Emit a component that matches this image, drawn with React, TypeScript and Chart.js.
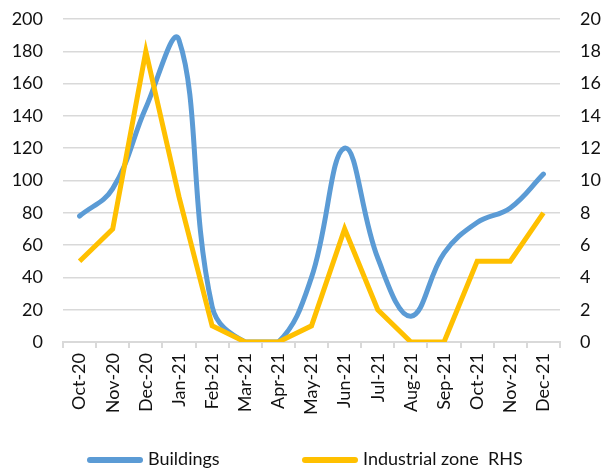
import React, { useEffect, useRef } from "react";
import { Chart, registerables } from "chart.js";

Chart.register(...registerables);

const categories = [
  "Oct-20", "Nov-20", "Dec-20", "Jan-21", "Feb-21", "Mar-21", "Apr-21", "May-21",
  "Jun-21", "Jul-21", "Aug-21", "Sep-21", "Oct-21", "Nov-21", "Dec-21",
];
const buildings = [78, 95, 145, 187, 22, 0, 0, 40, 120, 52, 16, 55, 74, 83, 104];
const industrialZone = [5, 7, 18, 9, 1, 0, 0, 1, 7, 2, 0, 0, 5, 5, 8];
const seriesNames = ["Buildings", "Industrial zone  RHS"];
const seriesColors = ["#5B9BD5", "#FFC000"];
const leftTicks = { min: 0, max: 200, step: 20 };
const rightTicks = { min: 0, max: 20, step: 2 };

const FONT = "Lato, 'Noto Sans', sans-serif";
const LEGEND_X = [87, 302];
const LEGEND_Y = 460;

const bottomLegend = {
  id: "bottomLegend",
  afterDraw(chart: any) {
    const ctx = chart.ctx as CanvasRenderingContext2D;
    ctx.save();
    chart.data.datasets.forEach((ds: any, i: number) => {
      const x = LEGEND_X[i];
      ctx.strokeStyle = ds.borderColor;
      ctx.lineWidth = 6;
      ctx.lineCap = "round";
      ctx.beginPath();
      ctx.moveTo(x + 3, LEGEND_Y);
      ctx.lineTo(x + 53, LEGEND_Y);
      ctx.stroke();
      ctx.fillStyle = "#111";
      ctx.font = `18px ${FONT}`;
      ctx.textAlign = "left";
      ctx.textBaseline = "alphabetic";
      ctx.fillText(ds.label, x + 61, 465);
    });
    ctx.restore();
  },
};

const fixVerticalPadding = (s: any, width: number) => {
  s.width = width;
  s.paddingTop = 0;
  s.paddingBottom = 0;
};

export default function App() {
  const ref = useRef<HTMLCanvasElement | null>(null);

  useEffect(() => {
    if (!ref.current) return;
    const chart = new Chart(ref.current, {
      type: "line",
      plugins: [bottomLegend],
      data: {
        labels: categories,
        datasets: [
          {
            label: seriesNames[0],
            data: buildings,
            borderColor: seriesColors[0],
            backgroundColor: seriesColors[0],
            borderWidth: 5,
            tension: 0.4,
            pointRadius: 0,
            borderCapStyle: "round",
            borderJoinStyle: "round",
            yAxisID: "y",
            order: 2,
          },
          {
            label: seriesNames[1],
            data: industrialZone,
            borderColor: seriesColors[1],
            backgroundColor: seriesColors[1],
            borderWidth: 5,
            tension: 0,
            pointRadius: 0,
            borderJoinStyle: "miter",
            yAxisID: "y1",
            order: 1,
          },
        ],
      },
      options: {
        animation: false,
        responsive: true,
        maintainAspectRatio: false,
        layout: { padding: { top: 19, left: 0, right: 0, bottom: 36 } },
        plugins: {
          tooltip: { enabled: false },
          legend: { display: false },
        },
        scales: {
          x: {
            type: "category",
            offset: true,
            grid: {
              display: true,
              drawOnChartArea: false,
              drawTicks: true,
              tickLength: 6,
              color: "#d9d9d9",
              lineWidth: 2,
              offset: true,
            },
            border: { display: true, color: "#d9d9d9", width: 2 },
            ticks: {
              autoSkip: false,
              minRotation: 90,
              maxRotation: 90,
              padding: 5,
              color: "#111",
              font: { family: FONT, size: 18 },
            },
            afterFit: (s: any) => {
              s.height = 90;
              s.paddingLeft = 0;
              s.paddingRight = 0;
            },
          },
          y: {
            position: "left",
            min: leftTicks.min,
            max: leftTicks.max,
            ticks: {
              stepSize: leftTicks.step,
              padding: 20,
              color: "#111",
              font: { family: FONT, size: 18 },
            },
            grid: { color: "#d9d9d9", lineWidth: 1.5, drawTicks: false },
            border: { display: false },
            afterFit: (s: any) => fixVerticalPadding(s, 63),
          },
          y1: {
            position: "right",
            min: rightTicks.min,
            max: rightTicks.max,
            ticks: {
              stepSize: rightTicks.step,
              padding: 20,
              color: "#111",
              font: { family: FONT, size: 18 },
            },
            grid: { drawOnChartArea: false, drawTicks: false },
            border: { display: false },
            afterFit: (s: any) => fixVerticalPadding(s, 45),
          },
        },
      },
    });
    return () => chart.destroy();
  }, []);

  return (
    <div
      style={{
        position: "fixed",
        left: 0,
        top: 0,
        width: 605,
        height: 468,
        overflow: "hidden",
        background: "#fff",
      }}
    >
      <div style={{ position: "relative", width: 605, height: 468 }}>
        <canvas ref={ref} />
      </div>
    </div>
  );
}
